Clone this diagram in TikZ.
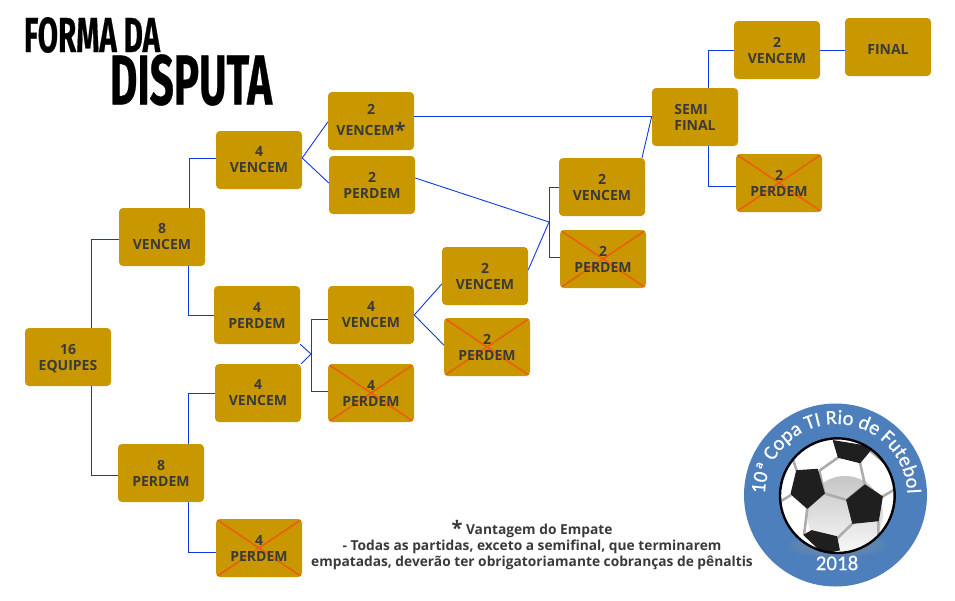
\documentclass[tikz,border=0pt]{standalone}
\usepackage{fontspec}
\setmainfont{Open Sans}
\newfontfamily\titulofont[FakeBold=0.6]{Fira Sans}
\newfontfamily\logofont[FakeBold=0.4]{Carlito}
\usetikzlibrary{decorations.text}
\definecolor{ouro}{HTML}{C99700}
\definecolor{texto}{HTML}{3A3A3A}
\definecolor{fioazul}{HTML}{1138E6}
\definecolor{cruz}{HTML}{E8600F}
\definecolor{logoazul}{HTML}{4C7FBC}
\tikzset{
  caixa/.style={rectangle,rounded corners=4pt,fill=ouro,minimum width=86pt,minimum height=58pt,inner sep=0pt,
    align=center,text=texto,font=\fontsize{14}{16}\selectfont\bfseries},
  caixaX/.style={caixa,path picture={
    \draw[cruz,line width=1.6pt] (path picture bounding box.north west) -- (path picture bounding box.south east);
    \draw[cruz,line width=1.6pt] (path picture bounding box.south west) -- (path picture bounding box.north east);}},
  fio/.style={draw=fioazul,line width=0.9pt},
  costura/.style={draw=gray!65,line width=2.6pt},
  penta/.style={fill=black!88,draw=black!88,line join=round,line width=1pt},
  nota/.style={inner sep=0pt,text=texto,font=\fontsize{13.75}{16}\selectfont\bfseries}
}
\begin{document}
\begin{tikzpicture}[x=1pt,y=-1pt]
\useasboundingbox (0,0) rectangle (955,600);
\node (forma) at (92,35) [inner sep=0pt] {\resizebox{136pt}{35pt}{\titulofont\bfseries FORMA DA}};
\node (disputa) at (191,80) [inner sep=0pt] {\resizebox{162pt}{50pt}{\titulofont\bfseries DISPUTA}};

\node (equipes) at (68,357) [caixa] {\rule{0pt}{14.2pt}16\\EQUIPES};
\node (vencemOito) at (162,237) [caixa] {8\\VENCEM};
\node (perdemOito) at (161,473) [caixa] {8\\PERDEM};
\node (vencemQuatroA) at (259,160) [caixa] {4\\VENCEM};
\node (perdemQuatroA) at (257,315) [caixa] {4\\PERDEM};
\node (vencemQuatroB) at (258,393) [caixa] {4\\VENCEM};
\node (perdemQuatroB) at (259,548) [caixaX] {4\\PERDEM};
\node (vencemDoisA) at (371,121) [caixa] {\raisebox{1pt}{2}\\[4pt]VENCEM{\fontsize{20}{16}\selectfont\raisebox{-2pt}{*}}};
\node (perdemDoisA) at (372,185) [caixa] {2\\PERDEM};
\node (vencemQuatroC) at (371,315) [caixa] {4\\VENCEM};
\node (perdemQuatroC) at (371,393) [caixaX] {4\\PERDEM};
\node (vencemDoisB) at (485,276) [caixa] {2\\VENCEM};
\node (perdemDoisB) at (487,347) [caixaX] {2\\PERDEM};
\node (vencemDoisC) at (602,187) [caixa] {2\\VENCEM};
\node (perdemDoisC) at (603,259) [caixaX] {2\\PERDEM};
\node (semi) at (695,117) [caixa,align=left] {SEMI\\FINAL};
\node (vencemDoisD) at (777,50) [caixa] {2\\VENCEM};
\node (final) at (888,47) [caixa] {\rule{0pt}{14.2pt}FINAL};
\node (perdemDoisD) at (779,183) [caixaX] {2\\PERDEM};

\coordinate (juntaA) at (311,354);
\coordinate (juntaB) at (549,222);

\draw[fio] ([xshift=23pt]equipes.north) |- ([yshift=-2pt]vencemOito.west);
\draw[fio] ([xshift=23pt]equipes.south) |- ([yshift=-2pt]perdemOito.west);
\draw[fio] ([xshift=27pt]vencemOito.north) |- ([yshift=2pt]vencemQuatroA.west);
\draw[fio] ([xshift=26pt]vencemOito.south) |- (perdemQuatroA.west);
\draw[fio] ([xshift=27pt]perdemOito.north) |- (vencemQuatroB.west);
\draw[fio] ([xshift=27pt]perdemOito.south) |- ([yshift=-4pt]perdemQuatroB.west);
\draw[fio] ([yshift=2pt]vencemQuatroA.east) -- ([yshift=-1pt]vencemDoisA.west);
\draw[fio] ([yshift=2pt]vencemQuatroA.east) -- ([yshift=2pt]perdemDoisA.west);
\draw[fio] ([yshift=5pt]vencemDoisA.east) -- ([yshift=1pt]semi.west);
\draw[fio] ([yshift=7pt]perdemDoisA.east) -- (juntaB);
\draw[fio] (perdemQuatroA.south east) -- (juntaA);
\draw[fio] (vencemQuatroB.north east) -- (juntaA);
\draw[fio] (juntaA) |- ([yshift=-4pt]vencemQuatroC.west);
\draw[fio] (juntaA) |- ([yshift=2pt]perdemQuatroC.west);
\draw[fio] (vencemQuatroC.east) -- ([yshift=-8pt]vencemDoisB.west);
\draw[fio] (vencemQuatroC.east) -- ([yshift=2pt]perdemDoisB.west);
\draw[fio] ([yshift=6pt]vencemDoisB.east) -- (juntaB);
\draw[fio] (juntaB) |- (vencemDoisC.west);
\draw[fio] (juntaB) |- ([yshift=2pt]perdemDoisC.west);
\draw[fio] ([xshift=40pt]vencemDoisC.north) -- ([yshift=1pt]semi.west);
\draw[fio] ([xshift=13pt]semi.north) |- (vencemDoisD.west);
\draw[fio] ([xshift=13pt]semi.south) |- ([yshift=-3pt]perdemDoisD.west);
\draw[fio] (vencemDoisD.east) -- ([yshift=-3pt]final.west);

\node (notaA) at (532,529) [nota] {{\fontsize{20}{16}\selectfont\raisebox{-1pt}{*}} Vantagem do Empate};
\node (notaB) at (532,547) [nota] {- Todas as partidas, exceto a semifinal, que terminarem};
\node (notaC) at (532,563) [nota] {empatadas, deverão ter obrigatoriamante cobranças de pênaltis};

% logo
\fill[logoazul] (835.5,495) circle (91.5);
\foreach \r in {1,...,8}
  \fill[gray!80,opacity=0.09] (837,546) ellipse (6*\r+4 and 1.4*\r+1);
\begin{scope}[shift={(730,400)},scale=1/3]
\begin{scope}
\clip (322,287) circle (172);
\fill[white] (322,287) circle (172);
\shade[top color=gray!45,bottom color=gray!6] (345,342) circle (114);
\draw[costura] (325,172) -- (268,212) (390,188) -- (405,255) (283,280) -- (350,300)
  (232,325) -- (222,405) (368,370) -- (322,415) (445,362) -- (445,410) (457,290) -- (500,265)
  (183,285) -- (150,305) (200,212) -- (185,165) (420,152) -- (460,185) (268,212) -- (283,280)
  (405,255) -- (350,300);
\fill[penta] (200,212) -- (262,208) -- (283,280) -- (232,325) -- (183,282) -- cycle;
\fill[penta] (310,122) -- (420,140) -- (420,152) -- (390,188) -- (325,172) -- cycle;
\fill[penta] (405,255) -- (457,290) -- (445,362) -- (368,370) -- (350,300) -- cycle;
\fill[penta] (222,405) -- (245,392) -- (320,410) -- (328,450) -- (280,460) -- cycle;
\end{scope}
\draw[black,line width=2.4pt] (322,287) circle (172);
\end{scope}
\begin{scope}[shift={(836,495)},x=1pt,y=1pt]
\path[decorate,decoration={text along path,text align=center,text color=white,
  text={|\logofont\fontsize{20.5}{20}\selectfont|10ª Copa TI Rio de Futebol}}]
  (-71,-4) arc[start angle=183,end angle=-3,radius=71.2];
\end{scope}
\node (ano) at (837,563) [inner sep=0pt,text=white,font=\logofont\fontsize{21}{21}\selectfont] {2018};
\end{tikzpicture}
\end{document}
